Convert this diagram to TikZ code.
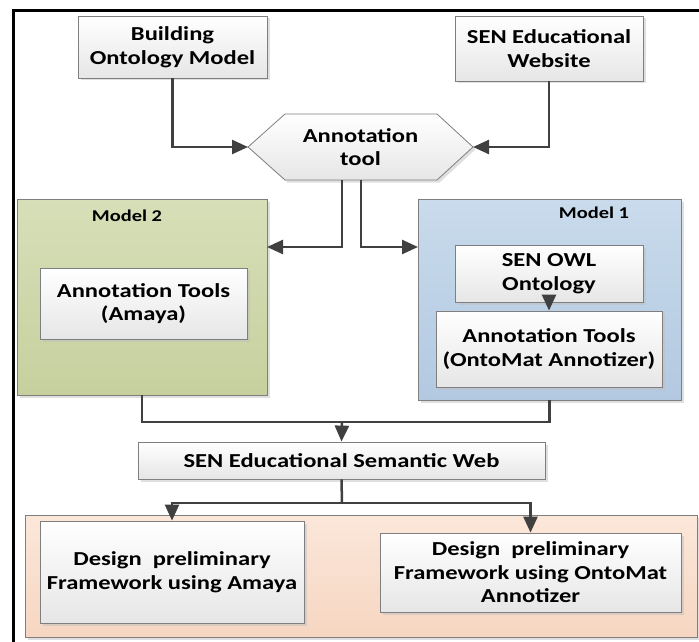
\documentclass[tikz,border=0pt]{standalone}
\usepackage{fontspec}
\setmainfont{Carlito}[FakeStretch=1.24]
\usetikzlibrary{arrows.meta,shadows,calc}
\definecolor{bordergray}{HTML}{7F7F7F}
\definecolor{boxbot}{HTML}{E6E6E6}
\definecolor{linecol}{HTML}{404040}
\definecolor{greentop}{HTML}{D7DFB8}
\definecolor{greenbot}{HTML}{C6D09E}
\definecolor{bluetop}{HTML}{C9DBEC}
\definecolor{bluebot}{HTML}{B2C9E1}
\definecolor{orangetop}{HTML}{FBE7DA}
\definecolor{orangebot}{HTML}{F6D6C1}
\tikzset{
  boxshadow/.style={drop shadow={shadow xshift=2.5pt, shadow yshift=-2.5pt, fill=black!25, opacity=.5}},
  stepbox/.style={rectangle, draw=bordergray, line width=0.8pt, top color=white, bottom color=boxbot,
    align=center, inner sep=0pt, boxshadow, font=\bfseries\fontsize{19.8}{23.5}\selectfont},
  container/.style={rectangle, draw=bordergray, line width=0.8pt, inner sep=0pt, boxshadow},
  titletext/.style={font=\bfseries\fontsize{16.5}{19}\selectfont, inner sep=0pt},
  conn/.style={draw=linecol, line width=2.5pt},
  arr/.style={conn, -{Triangle[length=16pt,width=14pt]}},
}
\begin{document}
\begin{tikzpicture}[x=1pt,y=-1pt]
\useasboundingbox (0,0) rectangle (699,642);
% outer frame (top and left edges visible)
\draw[line width=3pt, black] (13,642) -- (13,11) -- (699,11);

% top boxes
\node[stepbox, minimum width=189pt, minimum height=62pt] (bom) at (172.5,47) {Building\\Ontology Model};
\node[stepbox, minimum width=188pt, minimum height=65pt] (web) at (549,48.5) {SEN Educational\\Website};

% annotation tool hexagon
\fill[black!25, opacity=.5] (250.5,149.5) -- (287.5,116.5) -- (439.5,116.5) -- (475.5,149.5) -- (439.5,182.5) -- (287.5,182.5) -- cycle;
\draw[draw=bordergray, line width=0.8pt, top color=white, bottom color=boxbot]
  (248,147) -- (285,114) -- (437,114) -- (473,147) -- (437,180) -- (285,180) -- cycle;
\node[font=\bfseries\fontsize{19.8}{23.5}\selectfont, align=center, inner sep=0pt] (ann) at (360.5,147) {Annotation\\tool};
\coordinate (annW) at (248,147);
\coordinate (annE) at (473,147);
\coordinate (annS1) at (342,180);
\coordinate (annS2) at (361,180);

% Model 2
\node[container, top color=greentop, bottom color=greenbot, minimum width=250pt, minimum height=196pt] (m2) at (142,297) {};
\node[titletext] (m2t) at (127,216) {Model 2};
\node[stepbox, minimum width=207pt, minimum height=71pt] (amaya) at (143.5,303.5) {Annotation Tools\\(Amaya)};

% Model 1
\node[container, top color=bluetop, bottom color=bluebot, minimum width=263pt, minimum height=201pt] (m1) at (549.5,299.5) {};
\node[titletext] (m1t) at (594,213) {Model 1};
\node[stepbox, minimum width=188pt, minimum height=57pt] (owl) at (549,273.5) {SEN OWL\\Ontology};
\node[stepbox, minimum width=226pt, minimum height=76pt] (onto) at (549,349) {Annotation Tools\\(OntoMat Annotizer)};

% semantic web
\node[stepbox, minimum width=407pt, minimum height=37pt] (sw) at (341.5,460.5) {SEN Educational Semantic Web};

% bottom container
\node[container, top color=orangetop, bottom color=orangebot, minimum width=672pt, minimum height=122pt] (bot) at (361,576) {};
\node[stepbox, minimum width=264pt, minimum height=102pt] (d1) at (172,572) {Design\ \ preliminary\\Framework using Amaya};
\node[stepbox, minimum width=301pt, minimum height=79pt] (d2) at (530.5,572.5) {Design\ \ preliminary\\Framework using OntoMat\\Annotizer};

% junctions
\coordinate (m2in) at (267,247);
\coordinate (m1in) at (418,247);
\coordinate (j1) at (342,422);
\coordinate (j2) at (342,503);

% connectors
\draw[arr] (bom.south) |- (annW);
\draw[arr] (web.south) |- (annE);
\draw[arr] (annS1) |- (m2in);
\draw[arr] (annS2) |- (m1in);
\draw[arr] (owl.south) -- (onto.north);
\draw[conn] (m2.south) |- (j1);
\draw[conn] (m1.south) |- (j1);
\draw[arr] (j1) -- (sw.north);
\draw[conn] (sw.south) -- (j2);
\draw[arr] (j2) -| (d1.north);
\draw[arr] (j2) -| (d2.north);
\end{tikzpicture}
\end{document}
